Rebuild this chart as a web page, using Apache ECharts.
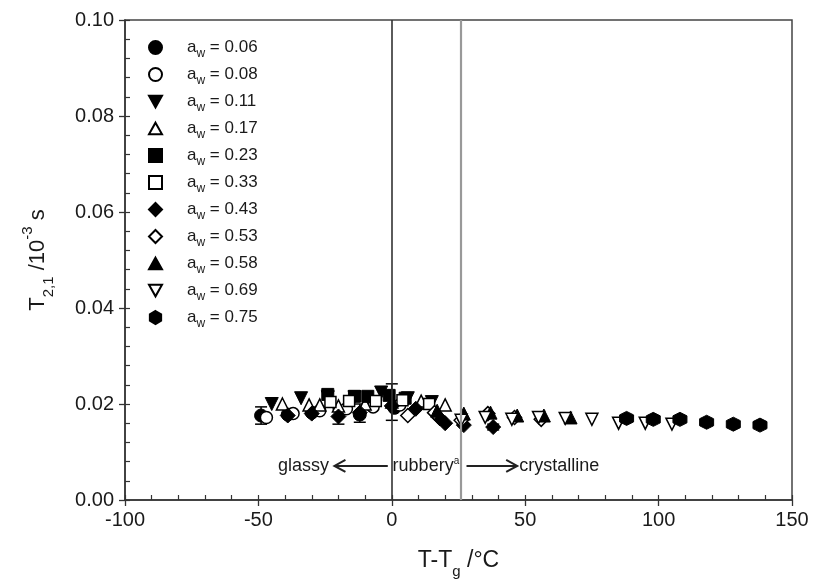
<!DOCTYPE html>
<html><head><meta charset="utf-8">
<script src="https://cdn.jsdelivr.net/npm/echarts@6/dist/echarts.min.js"></script>
<style>html,body{margin:0;padding:0;background:#fff}#c{width:813px;height:581px}</style>
</head><body><div id="c"></div>
<script>
// ---- data (T-Tg in °C, T2,1 in 10^-3 s) ----
const aw006 = [[-49,0.0176],[-39,0.0178],[-30,0.0182],[-12,0.0178],[1,0.0192]];
const aw008 = [[-47,0.0172],[-37,0.0180],[-27,0.0186],[-17,0.0190],[-7,0.0194],[3,0.0198]];
const aw011 = [[-45,0.0200],[-34,0.0212],[-24,0.0214],[-14,0.0214],[-4,0.0224],[6,0.0212],[15,0.0204]];
const aw017 = [[-41,0.0200],[-31,0.0198],[-27,0.0198],[-20,0.0196],[-10,0.0200],[0,0.0204],[11,0.0206],[20,0.0198]];
const aw023 = [[-24,0.0220],[-14,0.0216],[-9,0.0216],[-1,0.0218],[5,0.0212]];
const aw033 = [[-23,0.0204],[-16,0.0206],[-6,0.0206],[4,0.0208],[14,0.0200]];
const aw043 = [[-39,0.0176],[-30,0.0180],[-20,0.0174],[-12,0.0182],[0,0.0196],[9,0.0190],[18,0.0170],[20,0.0160],[27,0.0156],[38,0.0152]];
const aw053 = [[6,0.0176],[16,0.0182],[26,0.0166],[36,0.0180],[46,0.0172],[56,0.0168]];
const aw058 = [[17,0.0186],[27,0.0180],[37,0.0182],[47,0.0176],[57,0.0176],[67,0.0172]];
const aw069 = [[26,0.0166],[35,0.0172],[45,0.0168],[55,0.0172],[65,0.0170],[75,0.0168],[85,0.0160],[95,0.0160],[105,0.0158]];
const aw075 = [[88,0.0170],[98,0.0168],[108,0.0168],[118,0.0162],[128,0.0158],[138,0.0156]];
// error bars: [x, low, high]
const errorBars = [[-49,0.0158,0.0194],[-20,0.0158,0.0190],[-12,0.0162,0.0200],[0,0.0166,0.0242],[38,0.0146,0.0158]];
const awLabels = ['0.06','0.08','0.11','0.17','0.23','0.33','0.43','0.53','0.58','0.69','0.75'];
const xTicks = [-100,-50,0,50,100,150];
const yTicks = [0,0.02,0.04,0.06,0.08,0.10];
const phaseLines = [0, 26];
const regionLabels = ['glassy','rubbery','crystalline'];

const downTri = 'path://M0,0 L10,0 L5,9 Z';
const upTri = 'path://M5,0 L10,9 L0,9 Z';
const hexagon = 'path://M5,0 L9.33,2.5 L9.33,7.5 L5,10 L0.67,7.5 L0.67,2.5 Z';
const filled = {color:'#000', borderColor:'#000', borderWidth:1, opacity:1};
const open = {color:'#fff', borderColor:'#000', borderWidth:1.5, opacity:1};
const styles = [
  {d:aw006, sym:'circle', st:filled, sz:13},
  {d:aw008, sym:'circle', st:open, sz:12},
  {d:aw011, sym:downTri, st:filled, sz:13},
  {d:aw017, sym:upTri, st:open, sz:12},
  {d:aw023, sym:'rect', st:filled, sz:12},
  {d:aw033, sym:'rect', st:open, sz:11},
  {d:aw043, sym:'diamond', st:filled, sz:15},
  {d:aw053, sym:'diamond', st:open, sz:14},
  {d:aw058, sym:upTri, st:filled, sz:13},
  {d:aw069, sym:downTri, st:open, sz:12},
  {d:aw075, sym:hexagon, st:filled, sz:14}
];

const FONT = 'Arial, "Liberation Sans", sans-serif';
const TC = '#1a1a1a';
const chart = echarts.init(document.getElementById('c'));
const series = [];
series.push({
  type:'custom', name:'err', data:errorBars, z:3, silent:true,
  renderItem:function(params, api){
    const x = api.value(0), lo = api.value(1), hi = api.value(2);
    const p1 = api.coord([x, lo]), p2 = api.coord([x, hi]);
    const w = 6;
    const st = {stroke:'#000', lineWidth:1.5};
    return {type:'group', children:[
      {type:'line', shape:{x1:p1[0],y1:p1[1],x2:p2[0],y2:p2[1]}, style:st},
      {type:'line', shape:{x1:p1[0]-w,y1:p1[1],x2:p1[0]+w,y2:p1[1]}, style:st},
      {type:'line', shape:{x1:p2[0]-w,y1:p2[1],x2:p2[0]+w,y2:p2[1]}, style:st}
    ]};
  }
});
styles.forEach((s,i)=>{
  series.push({
    type:'scatter', name:'aw = '+awLabels[i], data:s.d, symbol:s.sym, symbolSize:s.sz,
    itemStyle:s.st, z:4, emphasis:{disabled:true}
  });
});
// vertical phase lines
series.push({
  type:'line', data:[], silent:true,
  markLine:{symbol:'none', silent:true, label:{show:false}, animation:false,
    data:[
      {xAxis:phaseLines[0], lineStyle:{color:'#333', width:1.6, type:'solid'}},
      {xAxis:phaseLines[1], lineStyle:{color:'#999', width:2.2, type:'solid'}}
    ]}
});

chart.setOption({
  animation:false,
  backgroundColor:'#fff',
  grid:{left:125, right:21, top:20, bottom:81, show:true, borderColor:'#444', borderWidth:1.5,
        containLabel:false, outerBoundsMode:'none'},
  legend:{
    orient:'vertical', left:143, top:34, itemWidth:13, itemHeight:13, itemGap:6,
    data:awLabels.map(l=>'aw = '+l),
    formatter:function(n){ return '{a|a}{w|w}{a| = '+n.replace('aw = ','')+'}'; },
    textStyle:{fontFamily:FONT, color:TC, padding:[0,0,0,20],
      rich:{a:{fontSize:17, fontFamily:FONT, color:TC, lineHeight:21},
            w:{fontSize:12, fontFamily:FONT, color:TC, verticalAlign:'bottom', lineHeight:25}}}
  },
  xAxis:[{
    type:'value', min:xTicks[0], max:xTicks[xTicks.length-1], interval:50,
    name:'{m|T-T}{s|g}{m| /°C}', nameLocation:'middle', nameGap:43,
    nameTextStyle:{rich:{m:{fontSize:23, fontFamily:FONT, color:TC, lineHeight:26},
                         s:{fontSize:15, fontFamily:FONT, color:TC, verticalAlign:'bottom', lineHeight:36}}},
    axisLine:{onZero:false, lineStyle:{color:'#333', width:1.5}},
    axisTick:{show:true, inside:false, length:6, lineStyle:{color:'#333', width:1.3}},
    axisLabel:{fontSize:20, fontFamily:FONT, color:TC, margin:10},
    splitLine:{show:false}
  },{
    type:'value', min:xTicks[0], max:xTicks[xTicks.length-1], interval:10, position:'bottom',
    axisLine:{show:false, onZero:false}, axisLabel:{show:false}, splitLine:{show:false},
    axisTick:{show:true, inside:true, length:5, lineStyle:{color:'#333', width:1.2}}
  }],
  yAxis:[{
    type:'value', min:yTicks[0], max:yTicks[yTicks.length-1], interval:0.02,
    name:'{m|T}{s|2,1}{m| /10}{p|-3}{m| s}', nameLocation:'middle', nameGap:69, nameRotate:90,
    nameTextStyle:{rich:{m:{fontSize:22, fontFamily:FONT, color:TC, lineHeight:26},
                         s:{fontSize:15, fontFamily:FONT, color:TC, verticalAlign:'bottom', lineHeight:36},
                         p:{fontSize:15, fontFamily:FONT, color:TC, verticalAlign:'top', lineHeight:32}}},
    axisLine:{onZero:false, lineStyle:{color:'#333', width:1.5}},
    axisTick:{show:true, inside:false, length:6, lineStyle:{color:'#333', width:1.3}},
    axisLabel:{fontSize:20, fontFamily:FONT, color:TC, margin:11, formatter:v=>v.toFixed(2)},
    splitLine:{show:false}
  },{
    type:'value', min:yTicks[0], max:yTicks[yTicks.length-1], interval:0.004, position:'left',
    axisLine:{show:false, onZero:false}, axisLabel:{show:false}, splitLine:{show:false},
    axisTick:{show:true, inside:true, length:5, lineStyle:{color:'#333', width:1.2}}
  }],
  series:series
});

// region annotations placed in data coordinates
const yAnn = 0.0071;
const px = (x,y)=>chart.convertToPixel({xAxisIndex:0,yAxisIndex:0},[x,y]);
const tStyle = {fontSize:18, fontFamily:FONT, fill:TC};
const g = [];
const pG = px(-23.5, yAnn);
g.push({type:'text', x:pG[0], y:pG[1], style:Object.assign({text:regionLabels[0], align:'right', verticalAlign:'middle'}, tStyle)});
const aL1 = px(-21.5, yAnn), aL2 = px(-1.5, yAnn);
g.push({type:'polyline', shape:{points:[[aL2[0],aL2[1]],[aL1[0],aL1[1]]]}, style:{stroke:'#222', lineWidth:2, fill:null}});
g.push({type:'polyline', shape:{points:[[aL1[0]+11,aL1[1]-6],[aL1[0],aL1[1]],[aL1[0]+11,aL1[1]+6]]}, style:{stroke:'#222', lineWidth:2, fill:null}});
const pR = px(0.3, yAnn);
g.push({type:'text', x:pR[0], y:pR[1], style:Object.assign({text:'{m|'+regionLabels[1]+'}{s|a}', align:'left', verticalAlign:'middle',
  rich:{m:{fontSize:18, fontFamily:FONT, fill:TC, lineHeight:20}, s:{fontSize:10, fontFamily:FONT, fill:TC, verticalAlign:'top', lineHeight:18}}}, tStyle)});
const aR1 = px(28, yAnn), aR2 = px(47, yAnn);
g.push({type:'polyline', shape:{points:[[aR1[0],aR1[1]],[aR2[0],aR2[1]]]}, style:{stroke:'#222', lineWidth:2, fill:null}});
g.push({type:'polyline', shape:{points:[[aR2[0]-11,aR2[1]-6],[aR2[0],aR2[1]],[aR2[0]-11,aR2[1]+6]]}, style:{stroke:'#222', lineWidth:2, fill:null}});
const pC = px(47.8, yAnn);
g.push({type:'text', x:pC[0], y:pC[1], style:Object.assign({text:regionLabels[2], align:'left', verticalAlign:'middle'}, tStyle)});
chart.setOption({graphic:g});
</script></body></html>
